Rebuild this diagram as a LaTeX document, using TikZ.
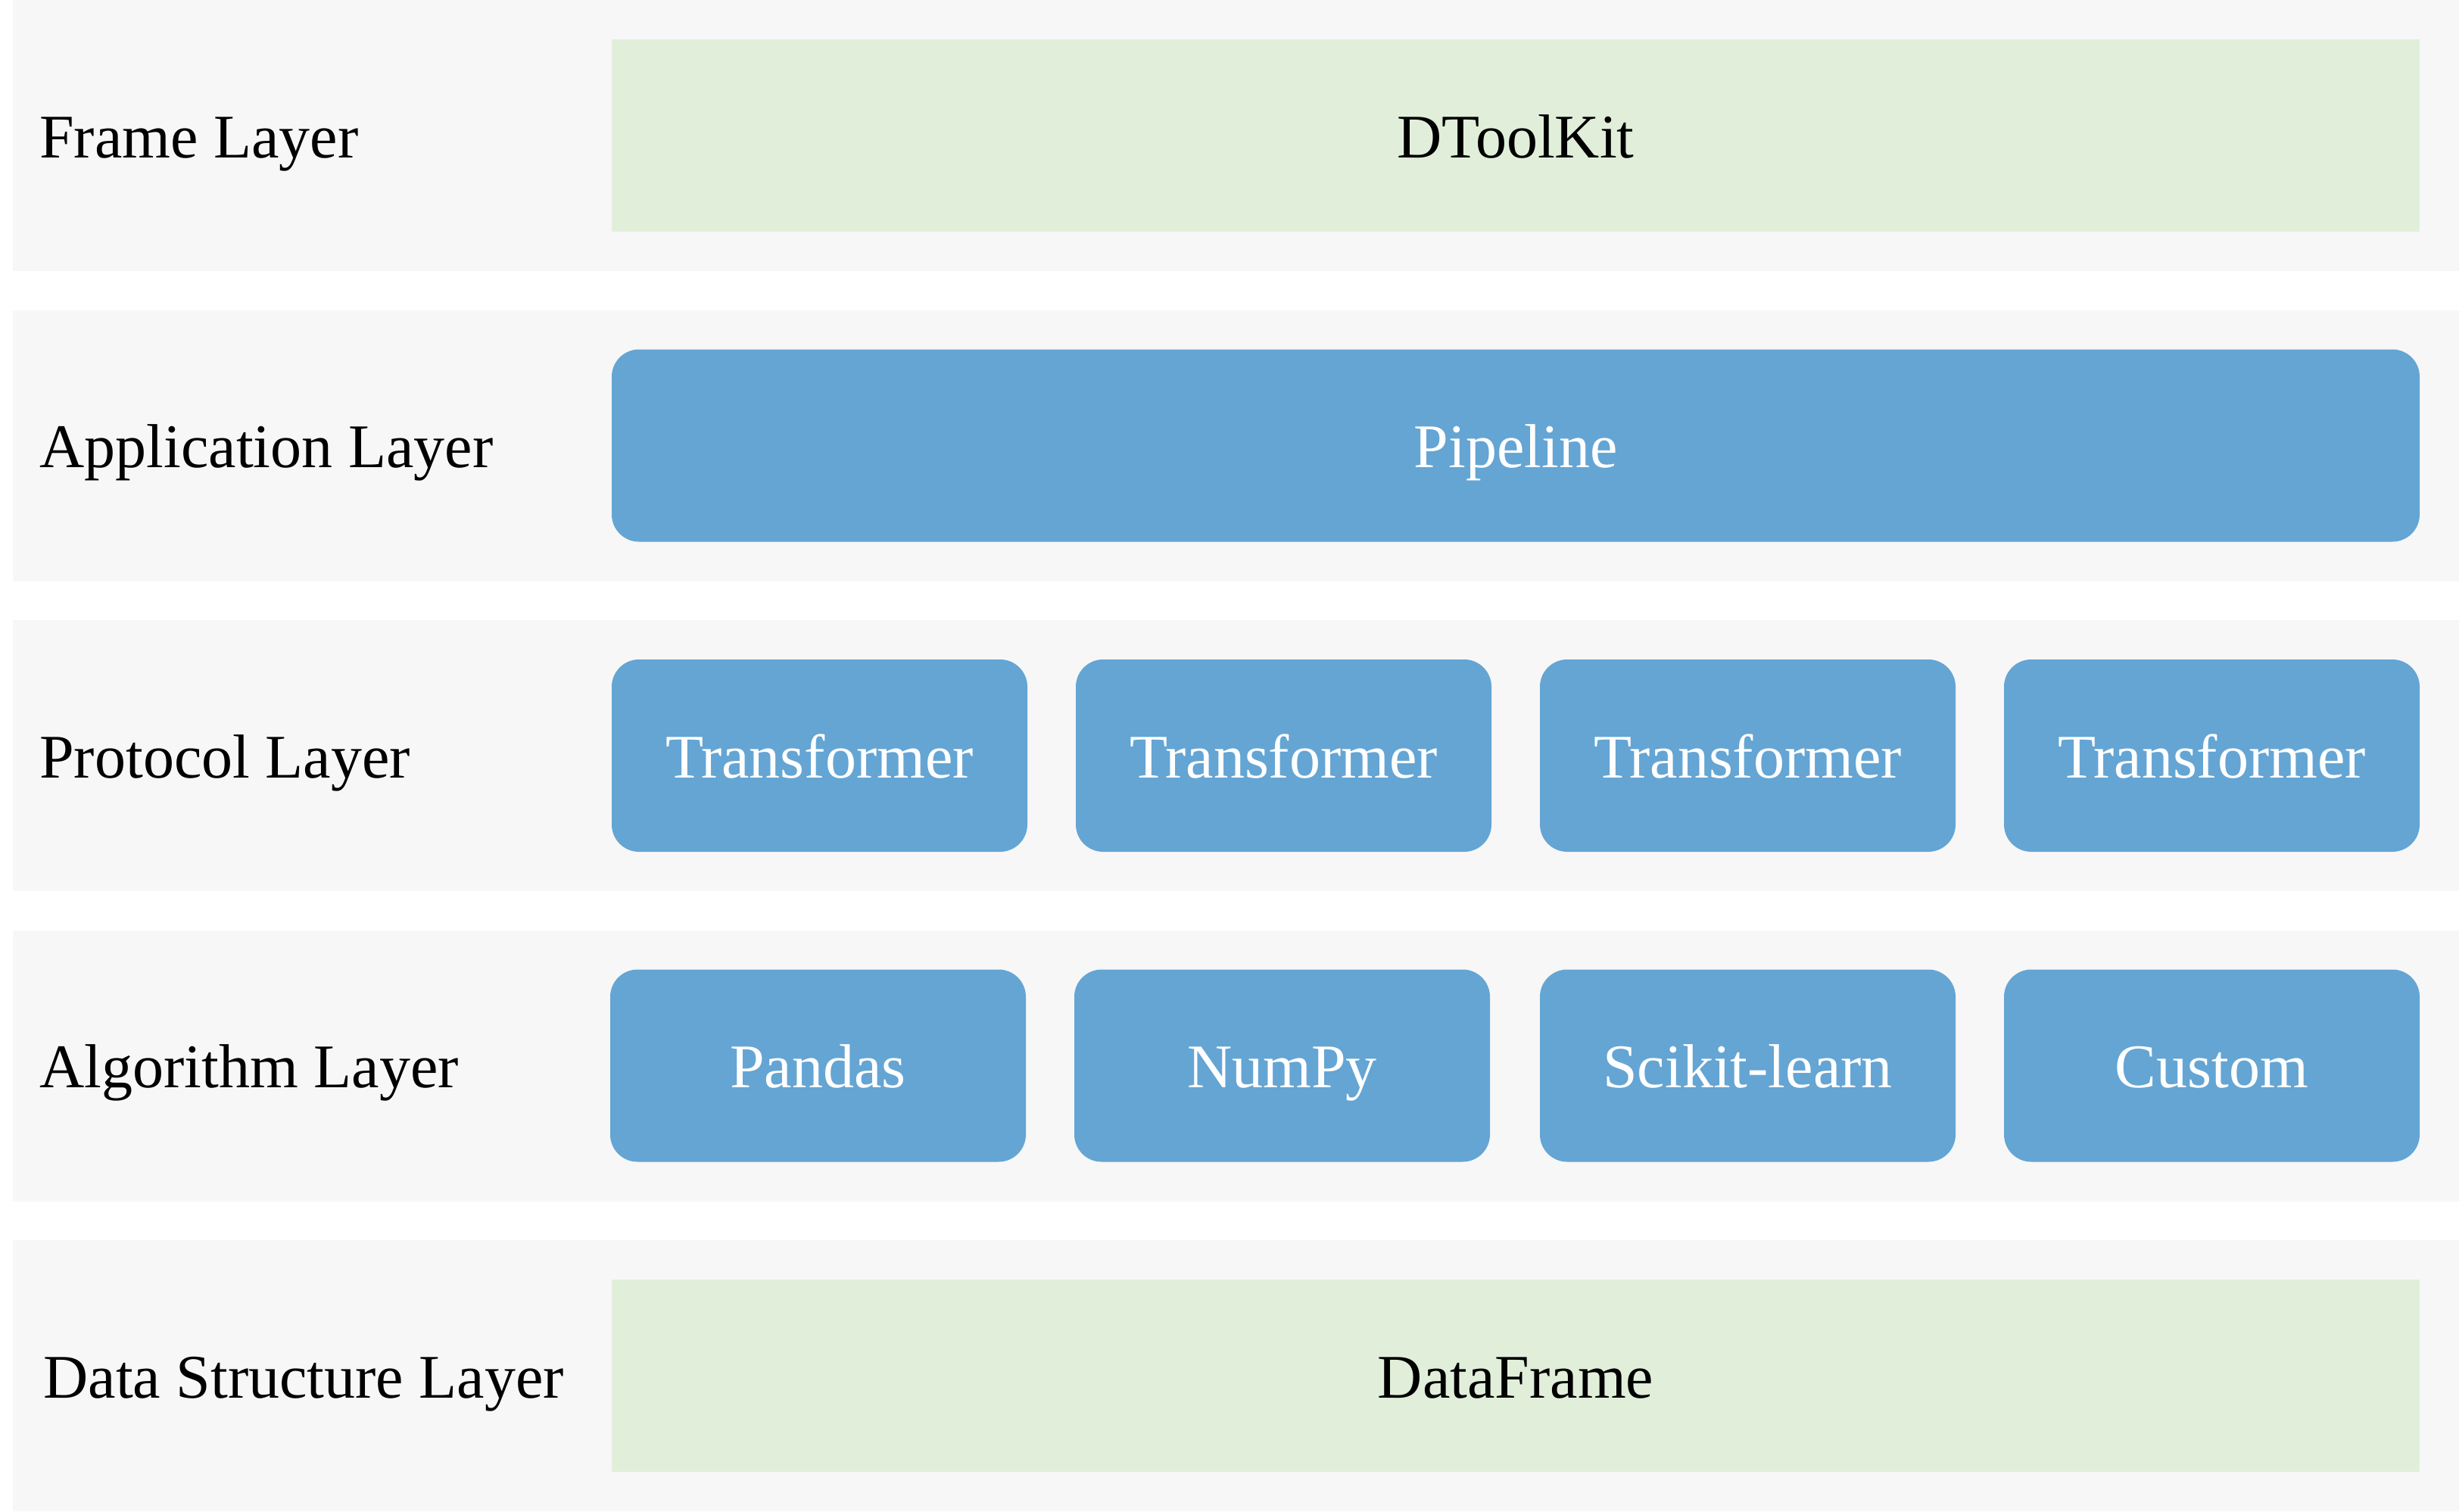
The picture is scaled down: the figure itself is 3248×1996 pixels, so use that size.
\documentclass[tikz,border=0pt]{standalone}
\usepackage{fontspec}
\setmainfont{Liberation Serif}
\definecolor{bandgray}{HTML}{F7F7F7}
\definecolor{boxgreen}{HTML}{E1EFDA}
\definecolor{boxblue}{HTML}{64A5D4}
\tikzset{
  layerband/.style={rectangle, fill=bandgray, draw=none, inner sep=0pt,
    minimum width=1615.5pt, minimum height=179pt},
  basetext/.style={inner sep=0pt, text height=29pt, text depth=0pt,
    font=\fontsize{41}{49}\selectfont},
  layerlabel/.style={basetext, anchor=west, text=black},
  greenbox/.style={basetext, rectangle, fill=boxgreen, text=black,
    minimum width=1194pt, minimum height=127pt},
  widebluebox/.style={basetext, rectangle, fill=boxblue, text=white,
    rounded corners=18pt, minimum width=1194pt, minimum height=127pt},
  bluebox/.style={basetext, rectangle, fill=boxblue, text=white,
    rounded corners=18pt, minimum width=274.5pt, minimum height=127pt},
}
\begin{document}
\begin{tikzpicture}[x=0.5pt, y=-0.5pt]
\fill[white] (0,0) rectangle (3248,1996);
\useasboundingbox (0,0) rectangle (3248,1996);
% bands
\node[layerband] (b1) at (1632.5,179) {};
\node[layerband] (b2) at (1632.5,588.5) {};
\node[layerband] (b3) at (1632.5,998) {};
\node[layerband] (b4) at (1632.5,1407.5) {};
\node[layerband] (b5) at (1632.5,1817) {};
% labels
\node[layerlabel] (l1) at (52,179) {Frame Layer};
\node[layerlabel] (l2) at (52,588.5) {Application Layer};
\node[layerlabel] (l3) at (52,998) {Protocol Layer};
\node[layerlabel] (l4) at (52,1407.5) {Algorithm Layer};
\node[layerlabel] (l5) at (57,1817) {Data Structure Layer};
% boxes
\node[greenbox] (dtk) at (2002,179) {DToolKit};
\node[widebluebox] (pipe) at (2002,588.5) {Pipeline};
\node[bluebox] (t1) at (1082.5,998) {Transformer};
\node[bluebox] (t2) at (1695.5,998) {Transformer};
\node[bluebox] (t3) at (2308.5,998) {Transformer};
\node[bluebox] (t4) at (2921.5,998) {Transformer};
\node[bluebox] (a1) at (1080.5,1407.5) {Pandas};
\node[bluebox] (a2) at (1693.5,1407.5) {NumPy};
\node[bluebox] (a3) at (2308.5,1407.5) {Scikit-learn};
\node[bluebox] (a4) at (2921.5,1407.5) {Custom};
\node[greenbox] (df) at (2002,1817) {DataFrame};
\end{tikzpicture}
\end{document}
